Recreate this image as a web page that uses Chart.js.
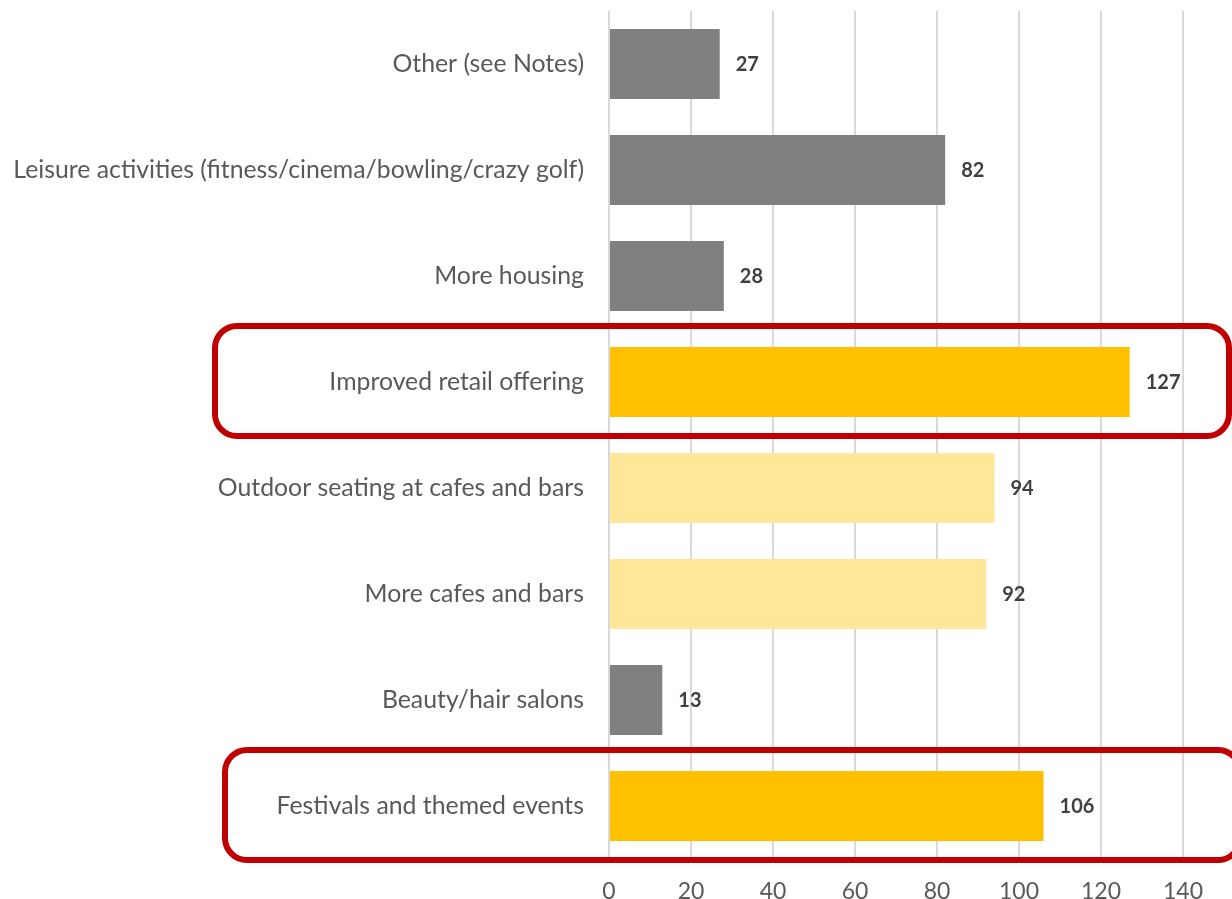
<!DOCTYPE html>
<html lang="en">
<head>
    <meta charset="UTF-8" />
    <title>Improvements wanted</title>
    <style>
        body {
            margin: 0;
            background: #fff;
        }

        .wrap {
            width: 1232px;
            height: 899px;
        }
    </style>
    <script src="https://cdn.jsdelivr.net/npm/chart.js"></script>
</head>
<body>
    <div class="wrap">
        <canvas id="grafico"></canvas>
    </div>

    <script>
        const categorias = [
            'Other (see Notes)',
            'Leisure activities (fitness/cinema/bowling/crazy golf)',
            'More housing',
            'Improved retail offering',
            'Outdoor seating at cafes and bars',
            'More cafes and bars',
            'Beauty/hair salons',
            'Festivals and themed events'
        ];
        const valores = [27, 82, 28, 127, 94, 92, 13, 106];
        const cores = ['#808080', '#808080', '#808080', '#FFC000', '#FFE699', '#FFE699', '#808080', '#FFC000'];
        const ticksX = [0, 20, 40, 60, 80, 100, 120, 140];

        // categorias com moldura vermelha: [indice, borda esquerda, borda direita]
        const destaques = [[3, 215, 1229], [7, 225, 1240]];

        const fonte = 'Lato, "Open Sans", sans-serif';

        // rótulos de valor no fim das barras
        const rotulos = {
            id: 'rotulos',
            afterDatasetsDraw(chart) {
                const ctx = chart.ctx;
                const meta = chart.getDatasetMeta(0);
                ctx.save();
                ctx.font = 'bold 20px ' + fonte;
                ctx.fillStyle = '#404040';
                ctx.textAlign = 'left';
                ctx.textBaseline = 'middle';
                meta.data.forEach((bar, i) => {
                    ctx.fillText(valores[i], bar.x + 16, bar.y + 1);
                });
                ctx.restore();
            }
        };

        // molduras arredondadas
        const molduras = {
            id: 'molduras',
            afterDraw(chart) {
                const ctx = chart.ctx;
                const y = chart.scales.y;
                const meio = (y.getPixelForValue(1) - y.getPixelForValue(0)) / 2;
                ctx.save();
                ctx.strokeStyle = '#C00000';
                ctx.lineWidth = 6;
                destaques.forEach(([i, esq, dir]) => {
                    const c = y.getPixelForValue(i);
                    ctx.beginPath();
                    ctx.roundRect(esq, c - meio - 3, dir - esq, meio * 2 + 4, 22);
                    ctx.stroke();
                });
                ctx.restore();
            }
        };

        new Chart(document.getElementById('grafico'), {
            type: 'bar',
            data: {
                labels: categorias,
                datasets: [{
                    data: valores,
                    backgroundColor: cores,
                    categoryPercentage: 1,
                    barPercentage: 0.66
                }]
            },
            options: {
                indexAxis: 'y',
                responsive: true,
                maintainAspectRatio: false,
                animation: false,
                layout: { padding: { top: 11, right: 49, left: 0, bottom: 0 } },
                plugins: {
                    legend: { display: false },
                    tooltip: { enabled: false }
                },
                scales: {
                    x: {
                        min: 0,
                        max: 140,
                        afterBuildTicks: s => { s.ticks = ticksX.map(v => ({ value: v })); },
                        afterFit: s => {
                            s.height = 40;
                            s.paddingLeft = 0;
                            s.paddingRight = 0;
                        },
                        grid: { color: '#d9d9d9', lineWidth: 2, drawTicks: false },
                        border: { display: false },
                        ticks: {
                            padding: 19,
                            color: '#595959',
                            font: { family: fonte, size: 23 }
                        }
                    },
                    y: {
                        afterFit: s => {
                            s.width = 609;
                            s.paddingTop = 0;
                            s.paddingBottom = 0;
                        },
                        grid: { display: false, drawTicks: false },
                        border: { display: false },
                        ticks: {
                            padding: 25,
                            color: '#595959',
                            font: { family: fonte, size: 24.8 }
                        }
                    }
                }
            },
            plugins: [rotulos, molduras]
        });
    </script>
</body>
</html>
